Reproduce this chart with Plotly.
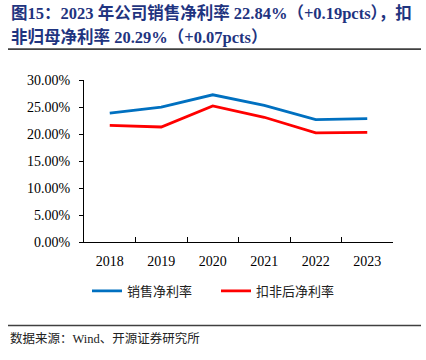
import plotly.graph_objects as go

years = ["2018", "2019", "2020", "2021", "2022", "2023"]
net_margin = [23.87, 24.98, 27.26, 25.30, 22.65, 22.84]
deducted_margin = [21.60, 21.30, 25.20, 23.10, 20.22, 20.29]
series_names = ["销售净利率", "扣非后净利率"]
y_ticks = [0, 5, 10, 15, 20, 25, 30]
y_tick_labels = ["0.00%", "5.00%", "10.00%", "15.00%", "20.00%", "25.00%", "30.00%"]

W, H = 426, 360
L, R, T, B = 84, 393, 79.5, 242
pw, ph = R - L, B - T

def px(x):
    return (x - L) / pw

def py(y):
    return (B - y) / ph

serif = "Liberation Serif, Times New Roman, Noto Sans CJK SC"
cjk = "Liberation Serif, Noto Sans CJK SC"

fig = go.Figure()
fig.add_trace(go.Scatter(x=years, y=net_margin, mode="lines", name=series_names[0],
                         line=dict(color="#0070C0", width=2.8)))
fig.add_trace(go.Scatter(x=years, y=deducted_margin, mode="lines", name=series_names[1],
                         line=dict(color="#FF0000", width=2.8)))

fig.update_layout(
    width=W, height=H, autosize=False,
    margin=dict(l=L, r=W - R, t=T, b=H - B, pad=0, autoexpand=False),
    plot_bgcolor="white", paper_bgcolor="white",
    font=dict(family=serif, size=13, color="black"),
    showlegend=True,
    legend=dict(orientation="h", x=px(87), xanchor="left", y=py(291), yanchor="middle",
                font=dict(family=cjk, size=13, color="#222"), itemwidth=30,
                entrywidth=84, bgcolor="rgba(0,0,0,0)", tracegroupgap=0),
    xaxis=dict(type="category", showline=True, linecolor="black", linewidth=1,
               ticks="inside", tickson="boundaries", ticklen=5, tickcolor="black",
               showgrid=False, zeroline=False, tickfont=dict(family=serif, size=14),
               ticklabelstandoff=6,
               range=[-0.5, 5.5], fixedrange=True, automargin=False),
    yaxis=dict(range=[0, 30], tickmode="array", tickvals=y_ticks, ticktext=y_tick_labels,
               showline=True, linecolor="black", linewidth=1, ticks="outside",
               ticklen=4, tickcolor="black", showgrid=False, zeroline=False,
               ticklabelstandoff=6,
               tickfont=dict(family=serif, size=14), fixedrange=True, automargin=False),
)

title_color = "#1F3480"
fig.add_annotation(xref="paper", yref="paper", x=px(9), y=py(0), xanchor="left", yanchor="top",
                   text="<b>图15：2023 年公司销售净利率 22.84%（+0.19pcts），扣</b>",
                   showarrow=False, font=dict(family=cjk, size=16.5, color=title_color), align="left")
fig.add_annotation(xref="paper", yref="paper", x=px(9), y=py(24), xanchor="left", yanchor="top",
                   text="<b>非归母净利率 20.29%（+0.07pcts）</b>",
                   showarrow=False, font=dict(family=cjk, size=16.5, color=title_color), align="left")
fig.add_annotation(xref="paper", yref="paper", x=px(8), y=py(339), xanchor="left", yanchor="middle",
                   text="数据来源：Wind、开源证券研究所",
                   showarrow=False, font=dict(family=cjk, size=12.5, color="#222"))

for yy in (48.5, 325.7):
    fig.add_shape(type="line", xref="paper", yref="paper", x0=px(8), x1=px(421),
                  y0=py(yy), y1=py(yy), line=dict(color="#404040", width=1.6))

fig.write_html("out.html", config={"displayModeBar": False},
               post_script="document.body.style.margin='0';")
